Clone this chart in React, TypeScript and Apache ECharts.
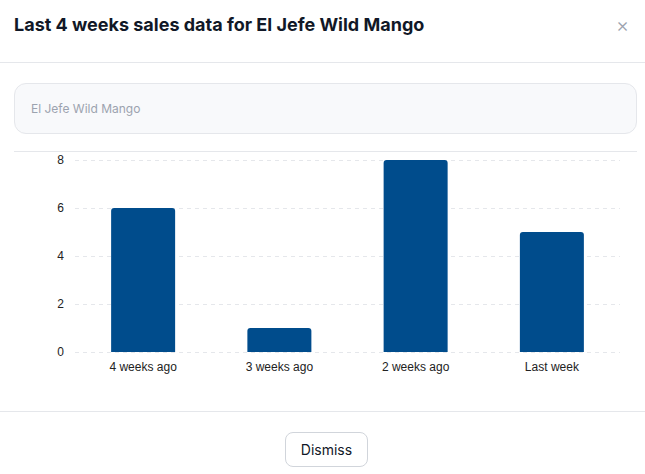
import React, { useEffect, useRef } from "react";
import * as echarts from "echarts";

const categories = ["4 weeks ago", "3 weeks ago", "2 weeks ago", "Last week"];
const sales = [6, 1, 8, 5];
const yTicks = [0, 2, 4, 6, 8];

function Chart() {
  const ref = useRef<HTMLDivElement>(null);
  useEffect(() => {
    if (!ref.current) return;
    const chart = echarts.init(ref.current, undefined, { renderer: "svg" });
    chart.setOption({
      animation: false,
      grid: { left: 75, right: 25, top: 10, bottom: 48, containLabel: false },
      xAxis: {
        type: "category",
        data: categories,
        axisLine: { show: false },
        axisTick: { show: false },
        axisLabel: { color: "#222", fontSize: 12, margin: 9, fontFamily: "Liberation Sans, Arial, sans-serif" },
      },
      yAxis: {
        type: "value",
        min: yTicks[0],
        max: yTicks[yTicks.length - 1],
        interval: 2,
        axisLine: { show: false },
        axisTick: { show: false },
        axisLabel: { color: "#222", fontSize: 12, margin: 11, fontFamily: "Liberation Sans, Arial, sans-serif" },
        splitLine: { show: true, lineStyle: { color: "#e5e7eb", type: [4, 4], width: 1 } },
      },
      series: [
        {
          type: "bar",
          data: sales,
          barWidth: 64,
          itemStyle: { color: "#004c8c", borderRadius: [3, 3, 0, 0] },
        },
      ],
    });
    return () => chart.dispose();
  }, []);
  return <div ref={ref} style={{ position: "absolute", left: 0, top: 150, width: 645, height: 250 }} />;
}

export default function App() {
  return (
    <div
      style={{
        position: "fixed",
        left: 0,
        top: 0,
        width: 645,
        height: 474,
        background: "#fff",
        fontFamily: "Inter, 'Noto Sans', sans-serif",
        overflow: "hidden",
      }}
    >
      <div
        style={{
          position: "absolute",
          left: 14,
          top: 13,
          fontSize: 18,
          fontWeight: 700,
          color: "#111827",
          lineHeight: "24px",
        }}
      >
        Last 4 weeks sales data for El Jefe Wild Mango
      </div>
      <div
        style={{
          position: "absolute",
          left: 616,
          top: 13,
          fontSize: 20,
          color: "#9ca3af",
          lineHeight: "24px",
          fontWeight: 300,
        }}
      >
        ×
      </div>
      <div style={{ position: "absolute", left: 0, top: 62, width: 645, height: 1, background: "#e5e7eb" }} />
      <div
        style={{
          position: "absolute",
          left: 14,
          top: 83,
          width: 621,
          height: 49,
          borderRadius: 12,
          border: "1px solid #e5e7eb",
          background: "#f8f9fb",
          boxSizing: "content-box",
        }}
      >
        <div
          style={{
            position: "absolute",
            left: 16,
            top: 16,
            fontSize: 12,
            color: "#9ca3af",
            lineHeight: "18px",
          }}
        >
          El Jefe Wild Mango
        </div>
      </div>
      <div style={{ position: "absolute", left: 14, top: 151, width: 623, height: 1, background: "#e5e7eb" }} />
      <Chart />
      <div style={{ position: "absolute", left: 0, top: 411, width: 645, height: 1, background: "#e5e7eb" }} />
      <div
        style={{
          position: "absolute",
          left: 285,
          top: 432,
          width: 81,
          height: 33,
          borderRadius: 8,
          border: "1px solid #d1d5db",
          display: "flex",
          alignItems: "center",
          justifyContent: "center",
          fontSize: 14,
          color: "#111827",
          background: "#fff",
        }}
      >
        Dismiss
      </div>
    </div>
  );
}
